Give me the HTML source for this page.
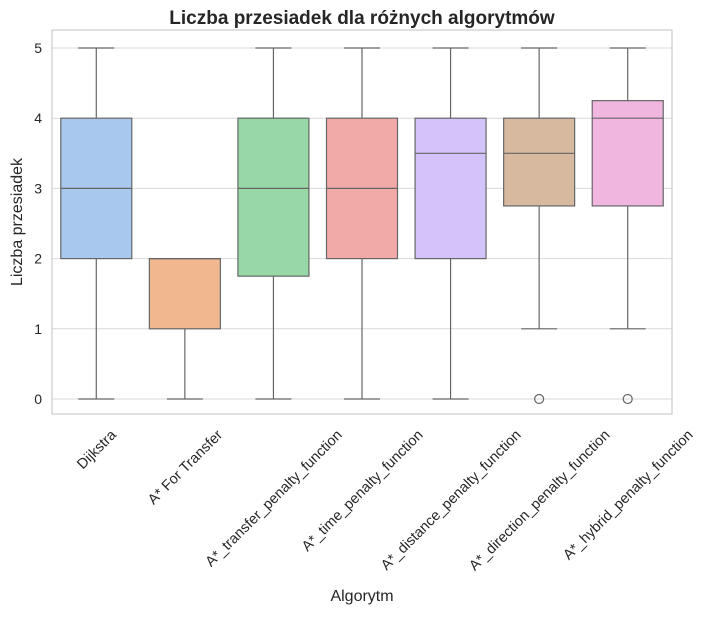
<!DOCTYPE html>
<html><head><meta charset="utf-8"><style>
body{margin:0;background:#fff}
svg text{font-family:"Liberation Sans","DejaVu Sans",sans-serif;fill:#262626}
</style></head><body>
<svg id="chart" width="708" height="613">
<text x="362" y="24" text-anchor="middle" font-size="19" font-weight="bold">Liczba przesiadek dla różnych algorytmów</text>
<text transform="translate(22,222) rotate(-90)" text-anchor="middle" font-size="16">Liczba przesiadek</text>
<text x="362" y="601" text-anchor="middle" font-size="16">Algorytm</text>
<g id="grid"></g><g id="boxes"></g><g id="labels"></g>
<rect x="52" y="30" width="620" height="384" fill="none" stroke="#cccccc" stroke-width="1.2"/>
</svg>
<script>
const categories=["Dijkstra","A* For Transfer","A*_transfer_penalty_function","A*_time_penalty_function","A*_distance_penalty_function","A*_direction_penalty_function","A*_hybrid_penalty_function"];
const whiskerLow=[0,0,0,0,0,1,1];
const q1=[2,1,1.75,2,2,2.75,2.75];
const median=[3,2,3,3,3.5,3.5,4];
const q3=[4,2,4,4,4,4,4.25];
const whiskerHigh=[5,2,5,5,5,5,5];
const outliers=[[],[],[],[],[],[0],[0]];
const colors=["#a9c8ee","#f1b890","#97d8a6","#f2aaa8","#d3c3fa","#d6b99e","#f0b6df"];
const yTicks=[0,1,2,3,4,5];
const NS="http://www.w3.org/2000/svg";
const L=52,R=672;
const y=v=>399-v*70.2;
const band=(R-L)/categories.length;
const x=i=>L+band*(i+0.5);
function mk(t,a,p){const e=document.createElementNS(NS,t);for(const k in a)e.setAttribute(k,a[k]);p.appendChild(e);return e;}
const grid=document.getElementById('grid'),boxes=document.getElementById('boxes'),labels=document.getElementById('labels');
yTicks.forEach(v=>{
 const g=mk('line',{x1:L,x2:R,y1:y(v),y2:y(v),stroke:'#d9d9d9','stroke-width':1},grid);
 
 
 const t=mk('text',{x:L-10,y:y(v)+5,'text-anchor':'end','font-size':14},labels);
 t.textContent=v;
 
 
});
const hw=35.5,cw=18;
categories.forEach((c,i)=>{
 const cx=x(i);
 const g=mk('g',{},boxes);
 
 
 const st={stroke:'#666','stroke-width':1.2};
 mk('line',Object.assign({x1:cx,x2:cx,y1:y(q3[i]),y2:y(whiskerHigh[i])},st),g);
 mk('line',Object.assign({x1:cx,x2:cx,y1:y(q1[i]),y2:y(whiskerLow[i])},st),g);
 mk('line',Object.assign({x1:cx-cw,x2:cx+cw,y1:y(whiskerHigh[i]),y2:y(whiskerHigh[i])},st),g);
 mk('line',Object.assign({x1:cx-cw,x2:cx+cw,y1:y(whiskerLow[i]),y2:y(whiskerLow[i])},st),g);
 mk('rect',Object.assign({x:cx-hw,width:hw*2,y:y(q3[i]),height:Math.max(0,y(q1[i])-y(q3[i])),fill:colors[i]},st),g);
 mk('line',Object.assign({x1:cx-hw,x2:cx+hw,y1:y(median[i]),y2:y(median[i])},st),g);
 outliers[i].forEach(o=>{
  const c2=mk('circle',{cx:cx,cy:y(o),r:4.5,fill:'none',stroke:'#666','stroke-width':1.2},g);
  
  
 });
 const t=mk('text',{'text-anchor':'middle','font-size':14.5},labels);
 t.textContent=c;
 
 
 const w=t.getComputedTextLength(),h=14.5;
 const half=(w+h)*0.7071/2;
 t.setAttribute('transform','translate('+cx+','+(427+half)+') rotate(-45) translate(0,'+(h*0.35)+')');
});
</script>
</body></html>
